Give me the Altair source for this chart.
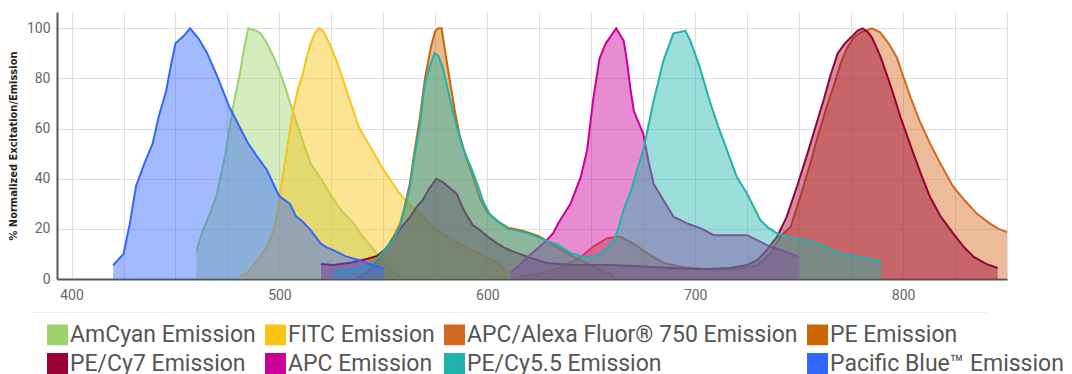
import altair as alt
import pandas as pd

SERIES = [
    "AmCyan Emission", "FITC Emission", "APC/Alexa Fluor® 750 Emission", "PE Emission",
    "PE/Cy7 Emission", "APC Emission", "PE/Cy5.5 Emission", "Pacific Blue™ Emission",
]
COLORS = ["#9dd36c", "#f9c414", "#d2691e", "#cc6600", "#990033", "#cc0099", "#1fb3ab", "#3366ff"]

AMCYAN_WL = [460, 463, 467, 470, 474, 478, 481, 483, 485, 489, 491, 494, 497, 500, 503, 506, 510,
             515, 520, 525, 530, 535, 540, 545, 550, 554, 558]
AMCYAN_V = [11, 19, 27, 34, 50, 70, 82, 92, 100, 99, 98, 94, 89, 83, 76, 68, 58,
            46, 40, 33, 27, 23, 17, 12, 6.5, 3, 1]

FITC_WL = [481, 484, 487, 490, 494, 497, 499, 501, 503.5, 506.5, 509, 511, 513, 515, 517, 519, 521,
           524, 527, 530, 534, 538, 542, 545, 549, 553, 557, 561, 566, 570, 574, 578, 582, 586,
           590, 595, 600, 604, 607, 610]
FITC_V = [1, 2, 5, 8, 13, 19, 26, 38, 51, 67, 76, 81, 88, 94, 98, 100, 99,
          94, 88, 81, 71, 61, 55, 51, 45, 40, 35, 31, 27, 24, 21, 18, 16.5, 14.5,
          12.7, 10.5, 8.8, 7, 5, 2]

APCAF750_WL = [615, 625, 633, 641, 646, 651, 657.6, 664, 670, 676.8, 684.7, 693, 705, 720, 730,
               736, 741, 746, 750.6, 755, 759, 763, 766.6, 770, 773, 776, 779.6, 785, 789, 793,
               797, 800, 803.6, 808, 813, 818, 824, 830, 835.6, 842, 846, 850]
APCAF750_V = [1, 2, 4, 7, 9.5, 12.9, 16.3, 16.9, 14.2, 10.4, 6.4, 4.9, 3.8, 3.8, 5.5,
              10, 16.9, 21, 33, 45, 57, 68, 77, 86, 92, 96, 98.4, 100, 98.4, 94,
              88.4, 81, 72.5, 63, 54, 46, 37, 31, 26, 22, 20, 18.7]

PE_WL = [537, 541, 545, 548, 552, 555, 558, 560, 562.7, 565, 567.5, 570, 573, 575, 576.5, 578,
         579.5, 582, 584.4, 586.8, 590, 593, 596.5, 600, 605, 610, 616, 620, 625, 629, 633, 637,
         641, 646, 651, 656, 661]
PE_V = [0.5, 2, 5, 9, 13, 17, 22, 28, 38, 51, 64, 80, 93, 99, 100, 100,
        92, 79, 67, 57, 48, 41, 32, 26.5, 23, 20.5, 19.5, 18.5, 17, 15, 13, 11,
        9, 7, 5, 3, 1]

PECY7_WL = [520, 526, 534, 542, 547, 551, 554.6, 558, 562.8, 566, 569, 572, 575.5, 578.7, 581,
            585.3, 589, 593, 596.5, 600, 604.6, 608, 612.6, 620.8, 628.6, 641, 660, 677, 693, 705,
            717, 725, 730, 734.5, 739.4, 744, 749, 754, 758, 762, 765, 768.5, 772, 775, 778,
            780.5, 783, 785, 789, 792.6, 796, 798.8, 802, 805, 809, 813, 818, 824, 829, 834,
            840, 845.5]
PECY7_V = [6, 5.6, 6.5, 8, 9.2, 12, 15.5, 20, 24.7, 28.7, 31.5, 36, 40, 38.6, 37,
           34, 27, 21.5, 19.5, 17, 14.3, 12.5, 10.9, 8.4, 6.4, 5.6, 5.6, 4.9, 4.2, 4,
           4.4, 5.6, 7.6, 11.6, 16.9, 24.8, 37, 50, 61, 72, 81, 90, 94, 96.4, 99,
           100, 98.5, 96.4, 89, 80.5, 72, 64.5, 57, 50, 41, 32.7, 25, 18.3, 13, 8.8,
           6, 4.4]

APC_WL = [611, 616, 621, 625, 628.6, 631.7, 634, 637, 640, 645, 648, 651, 654, 657, 659, 662,
          665.6, 667, 669, 670.5, 673, 675, 677.5, 680, 684.7, 689.6, 693, 696, 702.5, 708.9,
          725, 734.5, 741, 749.8]
APC_V = [2.4, 6, 10, 12.7, 15.5, 18.3, 22, 26, 30, 40.8, 51.4, 72, 88, 94, 96.4, 100,
         95, 88, 75, 67, 62, 58, 47, 38, 31.5, 24.8, 23.5, 22.2, 20.3, 17.5,
         17.5, 13.5, 11.6, 8.9]

PECY55_WL = [526, 532, 538, 542, 545, 548, 551, 554.6, 558, 560, 562.7, 565, 567.5, 570, 572.4,
             574.7, 576.5, 578.7, 582, 585.2, 588.4, 592.4, 595.6, 598, 601, 605, 610, 616, 620,
             625, 629, 633.4, 637, 640, 646, 651, 655, 658, 661, 663, 665.5, 669, 672, 675, 680,
             684.7, 689.5, 695.3, 697.7, 702, 707, 711, 715.3, 720, 725, 731.4, 735, 739.4, 746,
             754, 760.8, 768.8, 778.4, 784, 789.6]
PECY55_V = [3, 3.5, 4, 5, 6.5, 9, 12, 15.5, 21, 27, 36, 49, 61, 78, 85,
            90, 89, 84, 72, 61, 52, 44, 37, 31, 26, 23, 20, 19, 18,
            16.5, 15, 14, 12, 10.4, 8.9, 9, 10, 13, 15.5, 20, 27.5, 35, 43.4, 51.4, 71,
            87, 98, 99, 95, 85, 71, 61, 51.4, 40.8, 34, 23.5, 20.5, 18.2, 16.3,
            15.5, 13.5, 10.4, 8.9, 8, 6.9]

PACBLUE_WL = [420, 425, 428, 431, 435, 439, 442, 445.5, 448, 450, 454, 457, 461, 465, 470, 476,
              480, 485, 490, 494, 497, 500, 505, 508, 511, 515, 520, 523, 526, 532, 538, 543, 550]
PACBLUE_V = [5.5, 10, 22, 37, 46, 54, 65, 75, 86, 94, 97, 100, 96, 90.5, 81, 68.5,
             62, 54, 48, 43.5, 38, 33, 30, 25, 23, 19.5, 14, 12.5, 11.5, 9, 7.6, 6, 4.3]

X_TICKS = list(range(400, 851, 25))
Y_TICKS = [0, 20, 40, 60, 80, 100]

WLS = [AMCYAN_WL, FITC_WL, APCAF750_WL, PE_WL, PECY7_WL, APC_WL, PECY55_WL, PACBLUE_WL]
VALS = [AMCYAN_V, FITC_V, APCAF750_V, PE_V, PECY7_V, APC_V, PECY55_V, PACBLUE_V]

rows = []
for name, wl, vals in zip(SERIES, WLS, VALS):
    for a, b in zip(wl, vals):
        rows.append({"series": name, "wl": a, "v": b})
df = pd.DataFrame(rows)

x = alt.X("wl:Q", title=None,
          scale=alt.Scale(domain=[393, 850], nice=False, zero=False),
          axis=alt.Axis(values=X_TICKS, labelExpr="datum.value % 100 === 0 ? datum.label : ''",
                        ticks=False, labelPadding=9, labelFontSize=14, labelColor="#666",
                        labelFont="Roboto", domainColor="#555", domainWidth=2,
                        gridColor="#dedede", gridWidth=1))
y = alt.Y("v:Q", stack=None, title="% Normalized Excitation/Emission",
          scale=alt.Scale(domain=[0, 106.5], nice=False),
          axis=alt.Axis(values=Y_TICKS, ticks=False, labelPadding=7, labelFontSize=14,
                        labelColor="#666", labelFont="Roboto", domainColor="#555",
                        domainWidth=2, gridColor="#dedede", gridWidth=1,
                        titleFont="'DejaVu Sans Condensed', Roboto, sans-serif", titleFontSize=11,
                        titleFontWeight="bold", titleColor="#222", titlePadding=8))
fill = alt.Fill("series:N", scale=alt.Scale(domain=SERIES, range=COLORS),
                legend=alt.Legend(title=None, orient="none", legendX=-11, legendY=311,
                                  columns=4, direction="horizontal", gridAlign="each",
                                  labelFont="Roboto", labelFontSize=23, labelColor="#555",
                                  labelLimit=600, symbolType="square", symbolSize=380,
                                  symbolStrokeColor="#cccccc", symbolStrokeWidth=1.5,
                                  symbolOpacity=1, labelOffset=1, columnPadding=6,
                                  rowPadding=2, padding=0))
stroke = alt.Stroke("series:N", scale=alt.Scale(domain=SERIES, range=COLORS), legend=None)

layers = []
for name in SERIES:
    base = alt.Chart(df).transform_filter(alt.datum.series == name)
    layers.append(base.mark_area(fillOpacity=0.45).encode(x=x, y=y, fill=fill))
    layers.append(base.mark_line(strokeWidth=2).encode(x=x, y=y, stroke=stroke))

sep = alt.Chart(pd.DataFrame({"k": [0]})).mark_rule(color="#ececec", strokeWidth=1).encode(
    x=alt.value(-25), x2=alt.value(930), y=alt.value(300.5))
layers.append(sep)

chart = alt.layer(*layers).properties(
    width=950, height=267,
    padding={"left": 49, "top": 4, "right": 57, "bottom": 95},
    autosize=alt.AutoSizeParams(type="none"),
).configure_view(stroke=None)

chart.save("out.html", embed_options={"renderer": "svg", "actions": False})
